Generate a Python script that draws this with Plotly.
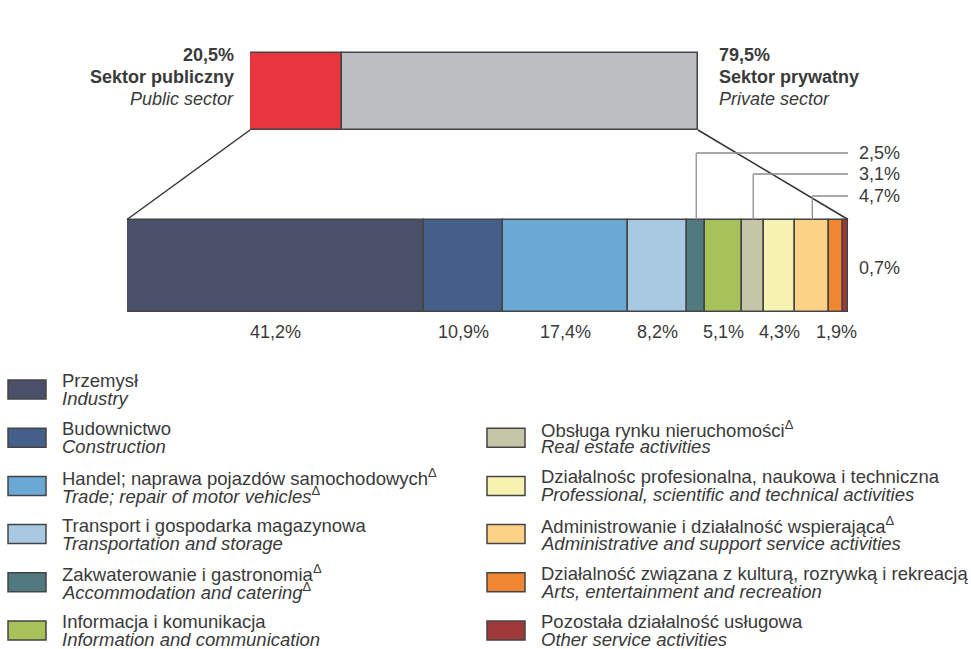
import plotly.graph_objects as go

# ---------------- data ----------------
sector_names = ["Sektor publiczny", "Sektor prywatny"]
sector_names_en = ["Public sector", "Private sector"]
sector_values = [20.5, 79.5]
sector_labels = ["20,5%", "79,5%"]

branch_pl = [
    "Przemysł",
    "Budownictwo",
    "Handel; naprawa pojazdów samochodowych",
    "Transport i gospodarka magazynowa",
    "Zakwaterowanie i gastronomia",
    "Informacja i komunikacja",
    "Obsługa rynku nieruchomości",
    "Działalnośc profesionalna, naukowa i techniczna",
    "Administrowanie i działalność wspierająca",
    "Działalność związana z kulturą, rozrywką i rekreacją",
    "Pozostała działalność usługowa",
]
branch_en = [
    "Industry",
    "Construction",
    "Trade; repair of motor vehicles",
    "Transportation and storage",
    "Accommodation and catering",
    "Information and communication",
    "Real estate activities",
    "Professional, scientific and technical activities",
    "Administrative and support service activities",
    "Arts, entertainment and recreation",
    "Other service activities",
]
branch_delta_pl = [False, False, True, False, True, False, True, False, True, False, False]
branch_delta_en = [False, False, True, False, True, False, False, False, False, False, False]
branch_values = [41.2, 10.9, 17.4, 8.2, 2.5, 5.1, 3.1, 4.3, 4.7, 1.9, 0.7]
branch_labels = ["41,2%", "10,9%", "17,4%", "8,2%", "2,5%", "5,1%", "3,1%", "4,3%", "4,7%", "1,9%", "0,7%"]

# ---------------- styles ----------------
sector_colors = ["#e8353e", "#bbbdc0"]
branch_colors = ["#4a5069", "#44608a", "#6aa8d6", "#a9c9e2", "#517a80", "#a8c25a",
                 "#c5c6a8", "#f6f3b0", "#fcd386", "#f08532", "#a03a3a"]
label_mode = ["below", "below", "below", "below", "leader", "below", "leader",
              "below", "leader", "below", "right"]
leader_y = {4: 153, 6: 174, 8: 196}
legend_col = [0, 0, 0, 0, 0, 0, 1, 1, 1, 1, 1]
legend_row = [0, 1, 2, 3, 4, 5, 1, 2, 3, 4, 5]

W, H = 971, 649
FONT = "Liberation Sans, Arial, sans-serif"
TXT = "#3a3a3a"
OUT = "#444444"

dom_bot = [127 / W, 848 / W]
dom_top = [250 / W, 698 / W]
y_bot, h_bot = 265.5, 92
y_top, h_top = 91.5, 77


def cumbase(vals):
    out, s = [], 0.0
    for v in vals:
        out.append(s)
        s += v
    return out


fig = go.Figure()
fig.add_trace(go.Bar(x=sector_values, base=cumbase(sector_values), y=[y_top] * len(sector_values),
                     width=h_top, orientation="h", xaxis="x2", yaxis="y",
                     marker=dict(color=sector_colors, line=dict(color=OUT, width=1.5)),
                     hoverinfo="skip", showlegend=False))
fig.add_trace(go.Bar(x=branch_values, base=cumbase(branch_values), y=[y_bot] * len(branch_values),
                     width=h_bot, orientation="h", xaxis="x", yaxis="y",
                     marker=dict(color=branch_colors, line=dict(color=OUT, width=1.5)),
                     hoverinfo="skip", showlegend=False))

shapes = []
ann = []

# connectors between bars
top_b = y_top + h_top / 2
bot_t = y_bot - h_bot / 2
shapes.append(dict(type="line", xref="paper", yref="y", x0=dom_top[0], y0=top_b, x1=dom_bot[0], y1=bot_t,
                   line=dict(color="#333333", width=1.5)))
shapes.append(dict(type="line", xref="paper", yref="y", x0=dom_top[1], y0=top_b, x1=dom_bot[1], y1=bot_t,
                   line=dict(color="#333333", width=1.5)))

# sector labels
for i, side in enumerate(["left", "right"]):
    xp = (236 if side == "left" else 717) / W
    anc = "right" if side == "left" else "left"
    ann.append(dict(x=xp, y=55, text="<b>%s</b>" % sector_labels[i]))
    ann.append(dict(x=xp, y=77, text="<b>%s</b>" % sector_names[i]))
    ann.append(dict(x=xp, y=98.5, text="<i>%s</i>" % sector_names_en[i]))
    for a in ann[-3:]:
        a.update(xref="paper", yref="y", xanchor=anc, yanchor="middle", showarrow=False,
                 font=dict(family=FONT, size=18, color=TXT))

# branch labels
end_x_data = (852 / W - dom_bot[0]) / (dom_bot[1] - dom_bot[0]) * 100
bases = cumbase(branch_values)
for i, v in enumerate(branch_values):
    c = bases[i] + v / 2
    mode = label_mode[i]
    if mode == "below":
        ann.append(dict(x=c, y=332, xref="x", yref="y", text=branch_labels[i], xanchor="center",
                        yanchor="middle", showarrow=False, font=dict(family=FONT, size=18, color=TXT)))
    elif mode == "leader":
        ly = leader_y[i]
        shapes.append(dict(type="line", xref="x", yref="y", x0=c, y0=bot_t, x1=c, y1=ly,
                           line=dict(color="#8e8e8e", width=1.3)))
        shapes.append(dict(type="line", xref="x", yref="y", x0=c, y0=ly, x1=end_x_data, y1=ly,
                           line=dict(color="#8e8e8e", width=1.3)))
        ann.append(dict(x=857 / W, y=ly, xref="paper", yref="y", text=branch_labels[i], xanchor="left",
                        yanchor="middle", showarrow=False, font=dict(family=FONT, size=18, color=TXT)))
    else:
        ann.append(dict(x=857 / W, y=268, xref="paper", yref="y", text=branch_labels[i], xanchor="left",
                        yanchor="middle", showarrow=False, font=dict(family=FONT, size=18, color=TXT)))

# legend
row0, row_step = 389.5, 48.2
sw_x = [(8, 46), (487, 525)]
tx_x = [60, 539]
DELTA = "<sup>Δ</sup>"
for i in range(len(branch_pl)):
    col = legend_col[i]
    yc = row0 + legend_row[i] * row_step
    shapes.append(dict(type="rect", xref="paper", yref="y", x0=sw_x[col][0] / W, x1=sw_x[col][1] / W,
                       y0=yc - 9.5, y1=yc + 9.5, fillcolor=branch_colors[i],
                       line=dict(color=OUT, width=1.5)))
    t1 = branch_pl[i] + (DELTA if branch_delta_pl[i] else "")
    t2 = "<i>" + branch_en[i] + "</i>" + (DELTA if branch_delta_en[i] else "")
    ann.append(dict(x=tx_x[col] / W, y=yc - 9, xref="paper", yref="y", text=t1, xanchor="left",
                    yanchor="middle", showarrow=False, font=dict(family=FONT, size=18.5, color=TXT)))
    ann.append(dict(x=tx_x[col] / W, y=yc + 9, xref="paper", yref="y", text=t2, xanchor="left",
                    yanchor="middle", showarrow=False, font=dict(family=FONT, size=18.5, color=TXT)))

fig.update_layout(
    width=W, height=H, margin=dict(l=0, r=0, t=0, b=0),
    paper_bgcolor="white", plot_bgcolor="rgba(0,0,0,0)",
    barmode="overlay", bargap=0, showlegend=False,
    xaxis=dict(domain=dom_bot, range=[0, 100], visible=False, fixedrange=True),
    xaxis2=dict(domain=dom_top, range=[0, 100], visible=False, anchor="y", fixedrange=True),
    yaxis=dict(domain=[0, 1], range=[H, 0], visible=False, fixedrange=True),
    shapes=shapes, annotations=ann,
)

fig.write_html("out.html")
